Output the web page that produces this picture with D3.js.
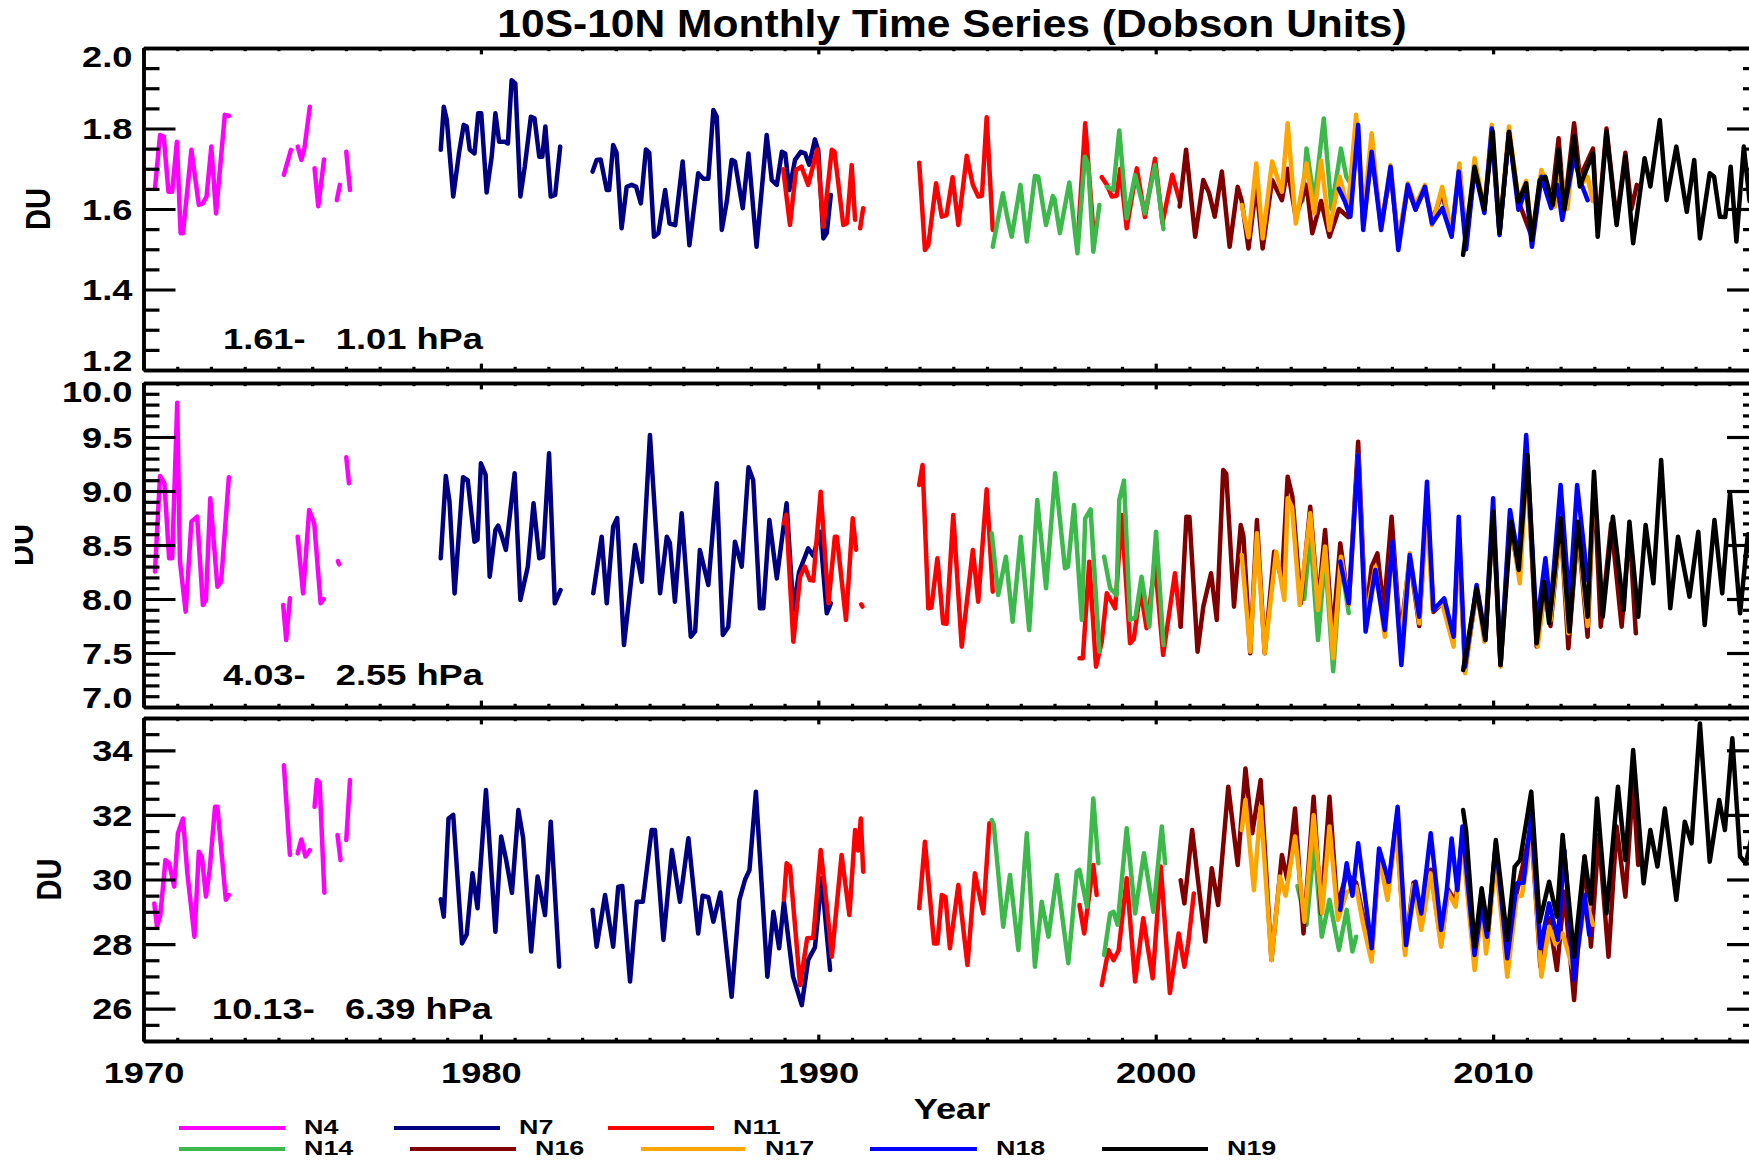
<!DOCTYPE html>
<html>
<head>
<meta charset="utf-8">
<script src="https://d3js.org/d3.v7.min.js"></script>
<style>
body { margin: 0; background: #fff; }
text { font-family: "Liberation Sans", Arial, Helvetica, sans-serif; font-weight: bold; fill: #000; }
.lbl { font-size: 29px; }
.title { font-size: 38px; }
.leg { font-size: 21px; }
</style>
</head>
<body>
<svg id="chart" width="1749" height="1160"></svg>
<script>
// ---- series info ----
var seriesNames = ["N4", "N7", "N11", "N14", "N16", "N17", "N18", "N19"];
var seriesColors = ["#ff00ff", "#000080", "#ff0000", "#3cb94a", "#800000", "#ffa500", "#0000ff", "#000000"];

// ---- panel info ----
var panelLabels = ["1.61-   1.01 hPa", "4.03-   2.55 hPa", "10.13-   6.39 hPa"];
var yDomains = [[1.2, 2.0], [7.0, 10.0], [25, 35]];
var yMajor = [[1.2, 1.4, 1.6, 1.8, 2.0], [7.0, 7.5, 8.0, 8.5, 9.0, 9.5, 10.0], [26, 28, 30, 32, 34]];
var yMinorStep = [0.05, 0.1, 0.5];
var yFormat = [".1f", ".1f", "d"];
var xMajor = [1970, 1980, 1990, 2000, 2010];
var yearRange = [1970, 2017.88];

// ---- panel 1 : 1.61-1.01 hPa, [year, DU] per segment ----
var n4_p1 = [
  [[1970.34,1.651],[1970.49,1.784],[1970.60,1.780],[1970.74,1.643],[1970.85,1.643],[1970.99,1.767],[1971.10,1.540],[1971.17,1.540],[1971.42,1.747],[1971.64,1.610],[1971.76,1.614],[1971.87,1.631],[1972.01,1.755],[1972.15,1.589],[1972.41,1.834],[1972.53,1.831]],
  [[1974.16,1.685],[1974.37,1.747]],
  [[1974.57,1.755],[1974.68,1.722],[1974.77,1.751],[1974.93,1.854]],
  [[1975.07,1.701],[1975.18,1.607],[1975.35,1.723]],
  [[1975.73,1.622],[1975.82,1.660]],
  [[1976.01,1.742],[1976.12,1.647]]
];
var n7_p1 = [
  [[1978.81,1.747],[1978.90,1.854],[1978.99,1.821],[1979.18,1.631],[1979.35,1.738],[1979.49,1.809],[1979.58,1.805],[1979.67,1.747],[1979.81,1.738],[1979.92,1.838],[1980.01,1.838],[1980.17,1.641],[1980.32,1.730],[1980.43,1.838],[1980.54,1.767],[1980.71,1.767],[1980.80,1.763],[1980.91,1.920],[1981.02,1.912],[1981.17,1.631],[1981.30,1.705],[1981.48,1.829],[1981.59,1.825],[1981.73,1.730],[1981.82,1.730],[1981.91,1.805],[1982.07,1.631],[1982.20,1.635],[1982.35,1.755]],
  [[1983.31,1.693],[1983.43,1.722],[1983.55,1.723],[1983.73,1.647],[1983.80,1.647],[1983.92,1.759],[1984.02,1.740],[1984.17,1.552],[1984.32,1.655],[1984.47,1.660],[1984.60,1.655],[1984.74,1.614],[1984.89,1.748],[1984.99,1.740],[1985.13,1.531],[1985.26,1.540],[1985.46,1.647],[1985.59,1.564],[1985.76,1.560],[1985.98,1.718],[1986.18,1.510],[1986.44,1.689],[1986.59,1.675],[1986.74,1.675],[1986.89,1.846],[1986.99,1.830],[1987.14,1.548],[1987.29,1.620],[1987.43,1.722],[1987.53,1.718],[1987.76,1.602],[1987.93,1.738],[1988.17,1.506],[1988.47,1.784],[1988.62,1.672],[1988.77,1.660],[1988.92,1.742],[1989.02,1.738],[1989.14,1.647],[1989.31,1.722],[1989.48,1.742],[1989.61,1.738],[1989.73,1.710],[1989.90,1.773],[1990.00,1.745],[1990.15,1.527],[1990.25,1.540],[1990.37,1.635]]
];
var n11_p1 = [
  [[1988.96,1.699],[1989.16,1.560],[1989.34,1.697],[1989.50,1.705],[1989.70,1.660],[1989.97,1.748],[1990.15,1.556],[1990.40,1.747],[1990.48,1.742],[1990.74,1.560],[1990.85,1.565],[1990.99,1.709],[1991.09,1.573]],
  [[1991.24,1.552],[1991.33,1.602]],
  [[1992.99,1.715],[1993.16,1.498],[1993.26,1.510],[1993.49,1.664],[1993.66,1.581],[1993.80,1.585],[1993.98,1.679],[1994.15,1.560],[1994.40,1.732],[1994.58,1.660],[1994.74,1.631],[1994.85,1.633],[1994.99,1.828],[1995.17,1.548]],
  [[1997.71,1.548],[1997.91,1.813],[1998.15,1.548]],
  [[1998.40,1.679],[1998.55,1.660],[1998.70,1.631],[1998.84,1.633],[1998.95,1.700],[1999.14,1.552],[1999.44,1.701],[1999.68,1.580],[1999.98,1.725],[2000.20,1.565],[2000.49,1.685],[2000.71,1.620]]
];
var n14_p1 = [
  [[1995.17,1.506],[1995.47,1.639],[1995.60,1.580],[1995.73,1.531],[1995.99,1.660],[1996.18,1.519],[1996.42,1.682],[1996.52,1.680],[1996.75,1.560],[1996.95,1.632],[1997.00,1.625],[1997.16,1.540],[1997.44,1.666],[1997.68,1.490],[1997.90,1.730],[1998.00,1.710],[1998.15,1.494],[1998.33,1.610]],
  [[1998.55,1.655],[1998.74,1.647],[1998.92,1.795],[1999.14,1.577],[1999.39,1.684],[1999.68,1.589],[1999.98,1.709],[2000.23,1.550]],
  [[2004.35,1.620],[2004.47,1.750],[2004.70,1.620],[2004.98,1.825],[2005.21,1.600],[2005.49,1.750],[2005.65,1.680],[2005.80,1.660]]
];
var n16_p1 = [
  [[2000.71,1.606],[2000.90,1.747],[2001.17,1.531],[2001.41,1.672],[2001.58,1.640],[2001.75,1.581],[2001.96,1.693],[2002.19,1.506],[2002.43,1.655],[2002.55,1.620],[2002.75,1.502],[2002.98,1.660],[2003.17,1.502],[2003.45,1.672],[2003.74,1.622],[2003.91,1.700],[2004.15,1.580],[2004.47,1.660],[2004.64,1.540],[2004.90,1.620],[2005.15,1.531],[2005.43,1.600],[2005.70,1.580],[2006.00,1.780],[2006.15,1.560],[2006.40,1.740],[2006.68,1.560],[2006.96,1.690],[2007.19,1.520],[2007.47,1.650],[2007.70,1.600],[2007.98,1.650],[2008.19,1.570],[2008.49,1.640],[2008.77,1.540],[2009.00,1.700],[2009.20,1.520],[2009.45,1.700],[2009.74,1.600],[2009.96,1.790],[2010.19,1.540],[2010.47,1.790],[2010.75,1.620],[2011.15,1.530],[2011.43,1.680],[2011.72,1.610],[2011.94,1.776],[2012.11,1.600],[2012.40,1.813],[2012.57,1.680],[2012.80,1.720],[2012.96,1.750],[2013.10,1.550],[2013.36,1.800],[2013.66,1.570],[2013.92,1.740],[2014.10,1.600],[2014.26,1.660]]
];
var n17_p1 = [
  [[2002.55,1.610],[2002.75,1.530],[2002.98,1.713],[2003.17,1.527],[2003.45,1.718],[2003.74,1.643],[2003.91,1.813],[2004.15,1.564],[2004.47,1.713],[2004.70,1.589],[2004.90,1.720],[2005.15,1.548],[2005.45,1.680],[2005.70,1.600],[2005.94,1.834],[2006.15,1.581],[2006.40,1.788],[2006.68,1.548],[2006.96,1.709],[2007.19,1.520],[2007.47,1.664],[2007.70,1.610],[2007.98,1.660],[2008.19,1.560],[2008.49,1.655],[2008.77,1.540],[2009.00,1.713],[2009.20,1.510],[2009.45,1.726],[2009.74,1.598],[2009.96,1.809],[2010.19,1.548],[2010.47,1.805],[2010.75,1.622],[2010.98,1.670],[2011.15,1.531],[2011.43,1.697],[2011.60,1.660],[2011.83,1.606],[2012.00,1.700],[2012.20,1.600],[2012.40,1.760],[2012.60,1.660],[2012.80,1.680],[2012.95,1.620]]
];
var n18_p1 = [
  [[2005.43,1.650],[2005.60,1.620],[2005.77,1.581],[2006.00,1.809],[2006.15,1.548],[2006.40,1.742],[2006.68,1.548],[2006.96,1.705],[2007.19,1.498],[2007.47,1.660],[2007.70,1.598],[2007.98,1.655],[2008.19,1.564],[2008.50,1.602],[2008.77,1.531],[2008.98,1.693],[2009.20,1.500],[2009.45,1.700],[2009.74,1.590],[2009.96,1.800],[2010.19,1.535],[2010.47,1.790],[2010.75,1.598],[2010.98,1.650],[2011.15,1.506],[2011.43,1.680],[2011.72,1.602],[2011.90,1.660],[2012.05,1.573],[2012.40,1.730],[2012.57,1.672],[2012.80,1.622]]
];
var n19_p1 = [
  [[2009.11,1.486],[2009.45,1.705],[2009.74,1.598],[2009.99,1.792],[2010.19,1.540],[2010.47,1.792],[2010.75,1.618],[2010.98,1.664],[2011.15,1.523],[2011.38,1.672],[2011.55,1.680],[2011.77,1.610],[2011.94,1.747],[2012.11,1.598],[2012.40,1.780],[2012.57,1.656],[2012.80,1.705],[2012.96,1.738],[2013.10,1.531],[2013.36,1.792],[2013.66,1.560],[2013.92,1.730],[2014.15,1.515],[2014.49,1.726],[2014.66,1.656],[2014.94,1.821],[2015.14,1.622],[2015.43,1.755],[2015.74,1.593],[2015.96,1.722],[2016.13,1.527],[2016.42,1.689],[2016.55,1.680],[2016.72,1.581],[2016.88,1.580],[2017.04,1.705],[2017.21,1.519],[2017.43,1.755],[2017.60,1.620],[2017.80,1.700]]
];

// ---- panel 2 : 4.03-2.55 hPa ----
var n4_p2 = [
  [[1970.34,8.253],[1970.49,9.139],[1970.62,9.071],[1970.76,8.377],[1970.85,8.377],[1971.00,9.818],[1971.08,8.350],[1971.25,7.883],[1971.42,8.716],[1971.59,8.762],[1971.76,7.944],[1971.85,7.990],[1971.98,8.932],[1972.19,8.114],[1972.30,8.160],[1972.53,9.127]],
  [[1974.14,7.944],[1974.23,7.620],[1974.34,8.006]],
  [[1974.57,8.577],[1974.73,8.052],[1974.91,8.824],[1975.06,8.700],[1975.25,7.960],[1975.34,8.000]],
  [[1975.76,8.350],[1975.80,8.320]],
  [[1976.01,9.312],[1976.09,9.071]]
];
var n7_p2 = [
  [[1978.81,8.377],[1978.96,9.139],[1979.07,8.900],[1979.22,8.052],[1979.47,9.127],[1979.61,9.100],[1979.81,8.531],[1979.90,8.550],[1980.00,9.256],[1980.14,9.150],[1980.26,8.207],[1980.43,8.639],[1980.51,8.680],[1980.60,8.600],[1980.74,8.454],[1981.00,9.164],[1981.17,7.991],[1981.39,8.299],[1981.56,8.886],[1981.73,8.377],[1981.84,8.390],[1982.02,9.349],[1982.19,7.960],[1982.36,8.083]],
  [[1983.33,8.053],[1983.58,8.577],[1983.73,7.960],[1983.92,8.670],[1984.04,8.750],[1984.24,7.574],[1984.57,8.500],[1984.77,8.160],[1985.01,9.519],[1985.31,8.053],[1985.51,8.577],[1985.60,8.520],[1985.75,7.975],[1985.95,8.794],[1986.22,7.651],[1986.35,7.700],[1986.49,8.454],[1986.74,8.130],[1986.99,9.071],[1987.17,7.667],[1987.33,7.740],[1987.53,8.531],[1987.73,8.299],[1987.93,9.219],[1988.07,9.100],[1988.27,7.914],[1988.37,7.914],[1988.55,8.731],[1988.77,8.191],[1989.06,8.886],[1989.26,7.898],[1989.43,8.250],[1989.70,8.469],[1989.85,8.400],[1990.05,8.623],[1990.25,7.867],[1990.37,7.960]]
];
var n11_p2 = [
  [[1988.98,8.701],[1989.05,8.780],[1989.26,7.605],[1989.46,8.207],[1989.60,8.300],[1989.75,8.176],[1989.85,8.170],[1990.07,8.994],[1990.30,7.960],[1990.49,8.577],[1990.55,8.577],[1990.82,7.806],[1991.02,8.747],[1991.12,8.457]],
  [[1991.27,7.950],[1991.31,7.930]],
  [[1992.99,9.056],[1993.09,9.241],[1993.26,7.914],[1993.35,7.920],[1993.53,8.377],[1993.70,7.775],[1993.80,7.770],[1994.00,8.778],[1994.25,7.559],[1994.58,8.454],[1994.74,7.975],[1994.99,9.015],[1995.17,8.068]],
  [[1997.74,7.451],[1997.84,7.451],[1998.03,8.346],[1998.23,7.373],[1998.40,7.605],[1998.55,8.053],[1998.80,7.914],[1998.99,8.778],[1999.24,7.590],[1999.35,7.630],[1999.55,8.083],[1999.73,7.729],[1999.98,8.330],[2000.22,7.481],[2000.57,8.238],[2000.74,7.744]]
];
var n14_p2 = [
  [[1995.14,8.608],[1995.33,8.037],[1995.56,8.392],[1995.76,7.790],[1996.00,8.577],[1996.25,7.713],[1996.49,8.917],[1996.75,8.099],[1997.02,9.164],[1997.31,8.284],[1997.40,8.300],[1997.58,8.870],[1997.81,7.806],[1997.91,8.747],[1998.07,8.830],[1998.33,7.512]],
  [[1998.47,8.392],[1998.65,8.100],[1998.84,8.037],[1998.92,8.917],[1999.06,9.096],[1999.24,7.806],[1999.40,7.830],[1999.58,8.207],[1999.81,7.744],[2000.01,8.623],[2000.23,7.574]],
  [[2004.40,8.000],[2004.58,8.600],[2004.81,7.620],[2005.02,8.400],[2005.26,7.330],[2005.49,8.350],[2005.72,7.870]]
];
var n16_p2 = [
  [[2000.74,7.744],[2000.91,8.762],[2001.00,8.760],[2001.24,7.512],[2001.41,7.929],[2001.64,8.238],[2001.81,7.806],[2002.00,9.194],[2002.09,9.160],[2002.32,7.929],[2002.52,8.685],[2002.60,8.580],[2002.80,7.497],[2003.00,8.731],[2003.23,7.497],[2003.51,8.438],[2003.74,8.176],[2003.91,9.133],[2004.05,8.950],[2004.30,7.960],[2004.58,8.855],[2004.81,7.950],[2005.02,8.639],[2005.24,7.651],[2005.47,8.515],[2005.72,7.950],[2006.00,9.457],[2006.22,7.837],[2006.40,8.299],[2006.57,8.423],[2006.76,7.898],[2006.99,8.762],[2007.25,7.651],[2007.53,8.380],[2007.81,7.750],[2008.04,8.950],[2008.23,7.880],[2008.55,7.980],[2008.83,7.620],[2008.98,8.600],[2009.17,7.350],[2009.51,8.080],[2009.77,7.620],[2010.00,8.780],[2010.22,7.380],[2010.50,8.700],[2010.76,8.250],[2011.00,9.300],[2011.29,7.560],[2011.55,8.100],[2011.70,7.750],[2012.00,8.700],[2012.23,7.543],[2012.51,8.650],[2012.80,7.651],[2012.99,9.100],[2013.19,7.744],[2013.50,8.700],[2013.81,7.744],[2014.04,8.650],[2014.23,7.682]]
];
var n17_p2 = [
  [[2002.55,8.407],[2002.80,7.512],[2003.00,8.608],[2003.23,7.497],[2003.57,8.438],[2003.81,7.991],[2003.91,8.932],[2004.04,8.850],[2004.27,7.944],[2004.58,8.793],[2004.81,7.898],[2005.02,8.485],[2005.26,7.451],[2005.49,8.392],[2005.72,7.950],[2006.00,9.333],[2006.22,7.806],[2006.51,8.299],[2006.79,7.651],[2007.02,8.515],[2007.25,7.559],[2007.53,8.423],[2007.81,7.775],[2008.04,8.800],[2008.21,7.898],[2008.49,7.960],[2008.83,7.559],[2008.98,8.550],[2009.17,7.312],[2009.51,8.114],[2009.74,7.605],[2010.00,8.793],[2010.22,7.373],[2010.50,8.762],[2010.79,8.145],[2011.00,9.250],[2011.32,7.559],[2011.55,8.145],[2011.70,7.800],[2012.00,8.700],[2012.23,7.682],[2012.51,8.650],[2012.80,7.750],[2012.95,8.800]]
];
var n18_p2 = [
  [[2005.47,8.346],[2005.72,7.960],[2006.00,9.333],[2006.22,7.698],[2006.51,8.269],[2006.79,7.713],[2007.02,8.531],[2007.28,7.389],[2007.53,8.407],[2007.81,7.836],[2008.04,9.086],[2008.23,7.898],[2008.55,8.006],[2008.83,7.651],[2008.98,8.762],[2009.17,7.373],[2009.51,8.130],[2009.77,7.651],[2010.00,8.932],[2010.22,7.389],[2010.50,8.824],[2010.76,8.361],[2010.98,9.518],[2011.29,7.744],[2011.55,8.377],[2011.70,7.900],[2012.00,9.056],[2012.26,7.960],[2012.49,9.056],[2012.80,8.176]]
];
var n19_p2 = [
  [[2009.11,7.342],[2009.51,8.099],[2009.77,7.620],[2010.00,8.809],[2010.22,7.389],[2010.53,8.716],[2010.76,8.269],[2011.02,9.333],[2011.29,7.590],[2011.51,8.160],[2011.66,7.775],[2012.00,8.747],[2012.26,7.698],[2012.51,8.716],[2012.80,7.836],[2012.99,9.179],[2013.25,7.836],[2013.55,8.762],[2013.87,7.898],[2014.04,8.716],[2014.30,7.836],[2014.52,8.685],[2014.75,8.145],[2014.98,9.287],[2015.25,7.914],[2015.48,8.577],[2015.82,8.022],[2016.08,8.623],[2016.27,7.759],[2016.56,8.731],[2016.79,8.052],[2017.02,8.978],[2017.32,7.867],[2017.55,8.600],[2017.80,8.100]]
];

// ---- panel 3 : 10.13-6.39 hPa ----
var n4_p3 = [
  [[1970.32,29.26],[1970.40,28.54],[1970.50,28.90],[1970.65,30.60],[1970.76,30.50],[1970.91,29.78],[1971.02,31.43],[1971.17,31.89],[1971.30,30.19],[1971.51,28.23],[1971.64,30.86],[1971.73,30.70],[1971.85,29.47],[1971.96,30.29],[1972.12,32.25],[1972.19,32.25],[1972.44,29.37],[1972.53,29.52]],
  [[1974.16,33.54],[1974.34,30.76]],
  [[1974.57,30.81],[1974.68,31.24],[1974.80,30.71],[1974.93,30.91]],
  [[1975.07,32.25],[1975.14,33.08],[1975.22,33.00],[1975.36,29.59]],
  [[1975.75,31.38],[1975.84,30.60]],
  [[1976.01,31.22],[1976.12,33.08]]
];
var n7_p3 = [
  [[1978.81,29.39],[1978.90,28.85],[1979.04,31.89],[1979.18,32.00],[1979.44,28.02],[1979.58,28.30],[1979.75,30.19],[1979.90,29.11],[1980.15,32.77],[1980.43,28.38],[1980.60,31.33],[1980.75,30.60],[1980.92,29.59],[1981.11,32.15],[1981.25,31.30],[1981.49,27.77],[1981.68,30.09],[1981.90,28.90],[1982.07,31.79],[1982.32,27.30]],
  [[1983.31,29.06],[1983.43,27.92],[1983.68,29.52],[1983.92,27.92],[1984.07,29.78],[1984.19,29.80],[1984.42,26.84],[1984.62,29.31],[1984.80,29.31],[1985.06,31.53],[1985.16,31.53],[1985.41,28.13],[1985.66,30.91],[1985.90,29.31],[1986.15,31.28],[1986.44,28.33],[1986.57,29.50],[1986.74,29.45],[1986.89,28.69],[1987.10,29.60],[1987.43,26.37],[1987.66,29.37],[1987.83,30.00],[1987.96,30.29],[1988.15,32.72],[1988.49,26.99],[1988.67,29.00],[1988.84,27.87],[1988.98,29.31],[1989.25,27.00],[1989.51,26.11],[1989.70,27.51],[1989.90,27.90],[1990.10,30.04],[1990.35,27.20]]
];
var n11_p3 = [
  [[1988.98,29.37],[1989.06,30.50],[1989.16,30.40],[1989.46,26.73],[1989.67,28.18],[1989.85,28.20],[1990.07,30.91],[1990.25,29.21],[1990.40,27.61],[1990.69,30.76],[1990.92,28.90],[1991.09,31.53],[1991.18,30.90],[1991.26,31.89],[1991.33,30.24]],
  [[1992.99,29.11],[1993.16,31.17],[1993.43,28.02],[1993.53,28.02],[1993.66,29.52],[1993.77,29.45],[1993.90,27.87],[1994.15,29.83],[1994.42,27.35],[1994.64,30.19],[1994.89,28.95],[1995.07,31.74]],
  [[1997.74,29.21],[1997.88,28.33],[1998.00,29.30],[1998.15,30.45],[1998.25,29.52]],
  [[1998.40,26.73],[1998.60,27.82],[1998.75,27.50],[1998.90,27.80],[1999.14,30.04],[1999.39,26.84],[1999.63,28.80],[1999.91,26.94],[2000.15,30.40],[2000.42,26.48],[2000.68,28.33],[2000.85,27.30],[2000.96,28.00],[2001.13,29.57]]
];
var n14_p3 = [
  [[1995.14,31.84],[1995.20,31.70],[1995.48,28.54],[1995.68,30.14],[1995.93,27.82],[1996.18,31.43],[1996.42,27.30],[1996.62,29.31],[1996.82,28.23],[1997.07,30.14],[1997.41,27.41],[1997.66,30.24],[1997.74,30.30],[1997.96,29.16],[1998.15,32.51],[1998.30,30.50]],
  [[1998.47,27.66],[1998.65,28.95],[1998.75,29.00],[1998.87,28.60],[1999.14,31.59],[1999.39,28.95],[1999.65,30.81],[1999.93,29.00],[2000.18,31.64],[2000.28,30.50]],
  [[2004.20,29.80],[2004.47,28.60],[2004.70,31.12],[2004.92,28.23],[2005.15,29.37],[2005.43,27.82],[2005.66,29.06],[2005.83,27.77],[2005.94,28.23]]
];
var n16_p3 = [
  [[2000.74,29.98],[2000.85,29.26],[2001.08,31.53],[2001.25,30.00],[2001.47,28.08],[2001.66,30.35],[2001.85,29.21],[2002.15,32.87],[2002.43,30.45],[2002.66,33.44],[2002.86,31.43],[2003.11,33.08],[2003.43,27.51],[2003.74,30.76],[2003.90,30.00],[2004.13,32.20],[2004.38,28.33],[2004.68,32.56],[2004.90,28.95],[2005.15,32.56],[2005.38,29.16],[2005.66,30.19],[2005.94,29.90],[2006.40,27.60],[2006.62,30.80],[2006.87,29.50],[2007.13,31.80],[2007.39,27.80],[2007.64,29.90],[2007.87,28.60],[2008.15,30.30],[2008.46,28.00],[2008.66,29.70],[2008.89,29.30],[2009.09,31.40],[2009.45,27.40],[2009.68,29.30],[2009.82,28.00],[2010.08,30.90],[2010.42,27.20],[2010.70,29.60],[2011.13,31.60],[2011.40,27.30],[2011.66,28.80],[2011.89,27.20],[2012.11,29.62],[2012.40,26.27],[2012.71,30.71],[2012.90,27.92],[2013.13,31.38],[2013.42,27.61],[2013.66,31.64],[2013.92,29.47],[2014.15,32.98],[2014.30,30.45]]
];
var n17_p3 = [
  [[2002.55,31.53],[2002.66,32.46],[2002.91,29.67],[2003.11,32.25],[2003.43,27.51],[2003.68,30.09],[2003.85,29.50],[2004.13,31.33],[2004.41,28.69],[2004.68,31.99],[2004.93,28.95],[2005.15,31.64],[2005.40,28.75],[2005.66,29.60],[2005.94,29.78],[2006.15,28.60],[2006.40,27.46],[2006.62,30.71],[2006.87,29.37],[2007.13,31.64],[2007.39,27.66],[2007.64,29.83],[2007.87,28.44],[2008.15,30.19],[2008.46,27.92],[2008.66,29.62],[2008.89,29.16],[2009.09,31.20],[2009.45,27.20],[2009.68,29.16],[2009.79,27.71],[2010.08,30.60],[2010.42,26.99],[2010.70,29.47],[2010.85,29.50],[2011.15,31.33],[2011.43,26.99],[2011.66,28.54],[2011.85,28.00],[2012.06,28.33],[2012.40,27.10],[2012.74,29.40],[2012.96,28.60]]
];
var n18_p3 = [
  [[2005.47,29.06],[2005.66,30.50],[2005.83,29.50],[2006.00,31.12],[2006.15,29.90],[2006.40,27.87],[2006.62,30.96],[2006.91,29.93],[2007.17,32.25],[2007.42,27.97],[2007.70,29.93],[2007.87,28.95],[2008.15,31.43],[2008.46,28.44],[2008.62,29.60],[2008.77,31.27],[2008.94,29.67],[2009.09,31.64],[2009.45,27.66],[2009.66,29.20],[2009.82,28.23],[2010.08,31.12],[2010.42,27.56],[2010.70,29.88],[2010.90,29.90],[2011.13,32.00],[2011.40,27.87],[2011.66,29.26],[2011.92,28.13],[2012.11,30.91],[2012.40,26.89],[2012.71,29.52],[2012.85,28.28]]
];
var n19_p3 = [
  [[2009.11,32.15],[2009.20,31.50],[2009.45,27.92],[2009.66,29.73],[2009.85,28.44],[2010.08,31.22],[2010.42,28.13],[2010.64,30.40],[2010.80,30.60],[2011.13,32.72],[2011.38,28.69],[2011.66,29.93],[2011.89,28.85],[2012.06,31.38],[2012.40,27.61],[2012.71,30.71],[2012.90,29.26],[2013.08,32.51],[2013.36,28.95],[2013.70,32.87],[2013.92,30.60],[2014.15,34.01],[2014.46,29.88],[2014.66,31.53],[2014.87,30.40],[2015.09,32.20],[2015.43,29.37],[2015.68,31.79],[2015.88,31.12],[2016.13,34.83],[2016.42,30.55],[2016.70,32.46],[2016.87,31.53],[2017.09,34.37],[2017.32,30.71],[2017.49,30.50],[2017.70,31.50],[2017.90,31.00]]
];

var panelSeries = [
  [n4_p1, n7_p1, n11_p1, n14_p1, n16_p1, n17_p1, n18_p1, n19_p1],
  [n4_p2, n7_p2, n11_p2, n14_p2, n16_p2, n17_p2, n18_p2, n19_p2],
  [n4_p3, n7_p3, n11_p3, n14_p3, n16_p3, n17_p3, n18_p3, n19_p3]
];

// ---- layout ----
var SX = 1.25;           // glyphs in the original are wider than Arial
var plotLeft = 143.5, plotRight = 1759;
var frames = [{top: 48, bottom: 370}, {top: 383, bottom: 707}, {top: 718, bottom: 1041}];
var duX = [50, 33, 61];  // baseline x of the rotated "DU"
var labelPos = [[223, 349], [223, 685], [212, 1019]];
var legendRows = [1128, 1149];
var legendPos = [[0, 179, 285, 304], [0, 394, 500, 519], [0, 608, 714, 733],
                 [1, 179, 285, 304], [1, 410, 516, 535], [1, 641, 745, 765],
                 [1, 870, 977, 996], [1, 1102, 1208, 1227]];

var svg = d3.select("#chart");
var x = d3.scaleLinear().domain(yearRange).range([plotLeft, plotRight]);
var xMinor = d3.range(1970, 2018).filter(function(v) { return xMajor.indexOf(v) < 0; });

function stretchText(sel, sx) {
  sel.each(function() {
    var t = d3.select(this);
    var tx = +t.attr("x") || 0, ty = +t.attr("y") || 0;
    t.attr("x", 0).attr("y", 0).attr("transform", "translate(" + tx + "," + ty + ") scale(" + sx + ",1)");
  });
}

function styleAxis(g) {
  g.attr("font-size", null).attr("font-family", null);
  g.select(".domain").attr("stroke-width", 3.5);
  g.selectAll(".tick line").attr("stroke-width", 3.2);
}

frames.forEach(function(f, i) {
  var y = d3.scaleLinear().domain(yDomains[i]).range([f.bottom, f.top]);
  var dom = yDomains[i];
  var yMinor = d3.range(dom[0], dom[1] + 1e-9, yMinorStep[i]).filter(function(v) {
    return !yMajor[i].some(function(m) { return Math.abs(m - v) < 1e-6; });
  });

  svg.append("clipPath").attr("id", "clip" + i).append("rect")
    .attr("x", plotLeft).attr("y", f.top).attr("width", plotRight - plotLeft).attr("height", f.bottom - f.top);

  // data
  var line = d3.line().x(function(d) { return x(d[0]); }).y(function(d) { return y(d[1]); });
  var gd = svg.append("g").attr("clip-path", "url(#clip" + i + ")");
  panelSeries[i].forEach(function(segs, s) {
    gd.selectAll(null).data(segs).enter().append("path")
      .attr("d", line)
      .attr("fill", "none")
      .attr("stroke", seriesColors[s])
      .attr("stroke-width", 4.5)
      .attr("stroke-linejoin", "round")
      .attr("stroke-linecap", "round");
  });

  // y axes
  var gl = svg.append("g").attr("transform", "translate(" + plotLeft + ",0)")
    .call(d3.axisLeft(y).tickValues(yMajor[i]).tickSize(-32).tickSizeOuter(0).tickPadding(11)
      .tickFormat(d3.format(yFormat[i])));
  styleAxis(gl);
  gl.selectAll(".tick text").attr("class", "lbl").attr("dy", function(d) {
    if (Math.abs(d - dom[1]) < 1e-9) return "0.65em";
    if (Math.abs(d - dom[0]) < 1e-9) return "0.0em";
    return "0.35em";
  });
  stretchText(gl.selectAll(".tick text"), SX);
  var glm = svg.append("g").attr("transform", "translate(" + plotLeft + ",0)")
    .call(d3.axisLeft(y).tickValues(yMinor).tickSize(-16).tickSizeOuter(0).tickFormat(""));
  styleAxis(glm);

  var gr = svg.append("g").attr("transform", "translate(" + plotRight + ",0)")
    .call(d3.axisRight(y).tickValues(yMajor[i]).tickSize(-32).tickSizeOuter(0).tickFormat(""));
  styleAxis(gr);
  var grm = svg.append("g").attr("transform", "translate(" + plotRight + ",0)")
    .call(d3.axisRight(y).tickValues(yMinor).tickSize(-16).tickSizeOuter(0).tickFormat(""));
  styleAxis(grm);

  // x axes
  [[d3.axisTop, f.top], [d3.axisBottom, f.bottom]].forEach(function(a, k) {
    var showLabels = (k === 1 && i === 2);
    var ga = svg.append("g").attr("transform", "translate(0," + a[1] + ")")
      .call(a[0](x).tickValues(xMajor).tickSize(-6.4).tickSizeOuter(0).tickPadding(21)
        .tickFormat(showLabels ? d3.format("d") : ""));
    styleAxis(ga);
    if (showLabels) {
      ga.selectAll(".tick text").attr("class", "lbl");
      stretchText(ga.selectAll(".tick text"), SX);
    }
    var gm = svg.append("g").attr("transform", "translate(0," + a[1] + ")")
      .call(a[0](x).tickValues(xMinor).tickSize(-3.2).tickSizeOuter(0).tickFormat(""));
    styleAxis(gm);
  });

  // pressure label
  var pl = svg.append("text").attr("class", "lbl").style("white-space", "pre")
    .attr("x", labelPos[i][0]).attr("y", labelPos[i][1]).text(panelLabels[i]);
  stretchText(pl, SX);

  // DU (the middle one is cut off on the left, as in the original)
  var cy = (f.top + f.bottom) / 2;
  var holder = svg;
  if (i === 1) {
    svg.append("clipPath").attr("id", "duclip").append("rect")
      .attr("x", 15).attr("y", 0).attr("width", 100).attr("height", 1160);
    holder = svg.append("g").attr("clip-path", "url(#duclip)");
  }
  holder.append("text").attr("class", "lbl").attr("text-anchor", "middle")
    .attr("transform", "translate(" + duX[i] + "," + cy + ") scale(1.2,1) rotate(-90)")
    .text("DU");
});

// title and x title
var title = svg.append("text").attr("class", "title").attr("text-anchor", "middle")
  .attr("x", 952).attr("y", 37).text("10S-10N Monthly Time Series (Dobson Units)");
stretchText(title, 1.12);
var xt = svg.append("text").attr("class", "lbl").attr("text-anchor", "middle")
  .attr("x", 952).attr("y", 1119).text("Year");
stretchText(xt, SX);

// legend
legendPos.forEach(function(p, s) {
  var yy = legendRows[p[0]];
  svg.append("line").attr("x1", p[1]).attr("x2", p[2]).attr("y1", yy).attr("y2", yy)
    .attr("stroke", seriesColors[s]).attr("stroke-width", 4);
  var t = svg.append("text").attr("class", "leg").attr("x", p[3]).attr("y", yy + 6).text(seriesNames[s]);
  stretchText(t, 1.28);
});
</script>
</body>
</html>
